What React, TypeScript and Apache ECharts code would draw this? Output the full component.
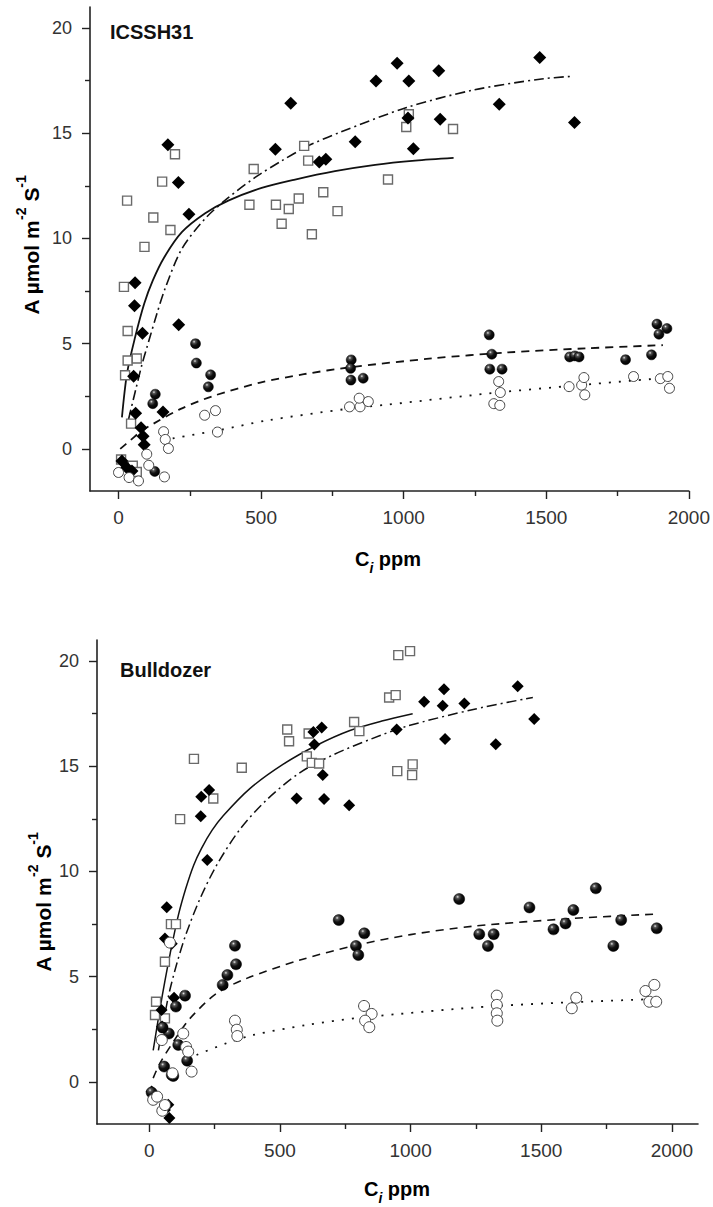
import React, { useEffect, useRef } from "react";
import * as echarts from "echarts";

// ---------- tick values ----------
const majorX = [0, 500, 1000, 1500, 2000];
const minorX = [250, 750, 1250, 1750];
const majorY = [0, 5, 10, 15, 20];
const minorY = [2.5, 7.5, 12.5, 17.5];

// ---------- ICSSH31 (top panel) ----------
const icsSquares = [
  [19, 7.7], [30, 11.8], [91, 9.6], [122, 11.0], [153, 12.7], [182, 10.4], [198, 14.0],
  [32, 5.6], [32, 4.2], [64, 4.3], [23, 3.5], [44, 1.2], [9, -0.5], [50, -0.8], [64, -1.1],
  [474, 13.3], [459, 11.6], [552, 11.6], [572, 10.7], [597, 11.4], [632, 11.9], [651, 14.4],
  [665, 13.7], [678, 10.2], [718, 12.2], [768, 11.3], [945, 12.8], [1009, 15.3], [1018, 15.9],
  [1173, 15.2],
];
const icsDiamonds = [
  [58, 7.9], [56, 6.8], [84, 5.5], [53, 3.45], [60, 1.7], [156, 1.75], [211, 5.9], [79, 1.0],
  [86, 0.6], [90, 0.2], [12, -0.57], [29, -0.9], [47, -1.05], [173, 14.45], [210, 12.66],
  [247, 11.15], [550, 14.24], [604, 16.43], [704, 13.64], [727, 13.77], [830, 14.6],
  [903, 17.48], [977, 18.33], [1015, 15.72], [1018, 17.48], [1034, 14.26], [1123, 17.97],
  [1128, 15.67], [1335, 16.38], [1477, 18.6], [1599, 15.51],
];
const icsClosed = [
  [120, 2.15], [129, 2.6], [127, -1.07], [270, 5.0], [273, 4.08], [323, 3.52], [315, 2.95],
  [816, 4.23], [814, 3.83], [815, 3.27], [858, 3.36], [1300, 5.42], [1309, 4.5], [1302, 3.79],
  [1345, 3.79], [1582, 4.37], [1600, 4.42], [1615, 4.37], [1778, 4.24], [1869, 4.47],
  [1888, 5.93], [1895, 5.45], [1923, 5.72],
];
const icsOpen = [
  [0, -1.12], [37, -1.36], [70, -1.52], [106, -0.78], [99, -0.25], [158, 0.82], [164, 0.45],
  [175, 0.02], [161, -1.33], [302, 1.6], [340, 1.82], [347, 0.8], [810, 2.0], [847, 2.0],
  [844, 2.41], [876, 2.25], [1333, 3.2], [1339, 2.68], [1316, 2.15], [1337, 2.07], [1580, 2.96],
  [1624, 3.03], [1632, 3.39], [1635, 2.57], [1806, 3.44], [1900, 3.34], [1926, 3.44], [1932, 2.88],
];
const icsFitSquares = [
  [12, 1.5], [30, 3.6], [58, 5.3], [90, 6.9], [120, 8.0], [160, 9.1], [222, 10.3], [304, 11.2],
  [385, 11.8], [502, 12.4], [619, 12.8], [759, 13.2], [900, 13.5], [1040, 13.7], [1175, 13.83],
];
const icsFitDiamonds = [
  [35, 1.4], [60, 2.8], [82, 4.0], [99, 4.8], [111, 5.35], [134, 6.4], [164, 7.65], [222, 9.5],
  [304, 10.95], [385, 11.94], [479, 12.9], [572, 13.69], [665, 14.4], [777, 15.05], [1010, 16.22],
  [1243, 17.05], [1477, 17.57], [1594, 17.71],
];
const icsFitClosed = [
  [6, 0.0], [41, 0.4], [80, 0.85], [123, 1.2], [216, 1.89], [333, 2.52], [497, 3.15], [650, 3.55],
  [812, 3.88], [1100, 4.3], [1360, 4.58], [1640, 4.78], [1909, 4.93],
];
const icsFitOpen = [
  [190, 0.5], [356, 0.9], [520, 1.35], [800, 1.9], [940, 2.1], [1360, 2.72], [1886, 3.34],
];

// ---------- Bulldozer (bottom panel) ----------
const bdzSquares = [
  [171, 15.35], [354, 14.93], [118, 12.49], [245, 13.47], [528, 16.75], [535, 16.19], [610, 16.56],
  [603, 15.47], [622, 15.16], [650, 15.13], [784, 17.1], [804, 16.67], [918, 18.27], [943, 18.38],
  [953, 20.28], [998, 20.47], [949, 14.77], [1008, 15.09], [1006, 14.58], [83, 7.5], [102, 7.5],
  [60, 5.71], [26, 3.81], [22, 3.18], [60, 3.02],
];
const bdzDiamonds = [
  [199, 13.55], [229, 13.87], [197, 12.63], [222, 10.54], [67, 8.3], [60, 6.82], [86, 6.57],
  [95, 4.0], [47, 3.42], [49, 2.63], [77, -1.72], [60, -1.33], [73, -1.09], [9, -0.46],
  [628, 16.63], [632, 16.04], [660, 16.84], [664, 14.58], [669, 13.45], [765, 13.15], [564, 13.47],
  [947, 16.75], [1052, 18.06], [1123, 17.87], [1128, 18.66], [1132, 16.29], [1206, 17.98],
  [1326, 16.05], [1410, 18.8], [1473, 17.24],
];
const bdzClosed = [
  [328, 6.47], [332, 5.59], [299, 5.08], [281, 4.61], [137, 4.1], [102, 3.58], [75, 2.3], [51, 2.58],
  [111, 1.76], [145, 1.01], [57, 0.73], [86, 0.33], [92, 0.28], [9, -0.5], [725, 7.69], [791, 6.46],
  [800, 6.03], [823, 7.06], [1186, 8.69], [1263, 7.02], [1318, 7.02], [1296, 6.46], [1455, 8.29],
  [1547, 7.25], [1593, 7.53], [1623, 8.17], [1709, 9.2], [1776, 6.46], [1806, 7.69], [1942, 7.3],
];
const bdzOpen = [
  [822, 3.61], [851, 3.23], [826, 2.91], [842, 2.6], [1330, 4.1], [1330, 3.66], [1330, 3.26],
  [1332, 2.91], [1634, 4.0], [1617, 3.5], [1899, 4.32], [1933, 4.61], [1914, 3.81], [1940, 3.81],
  [328, 2.91], [335, 2.48], [337, 2.18], [130, 2.3], [141, 1.66], [149, 1.44], [162, 0.49],
  [89, 0.41], [15, -0.85], [50, -1.37], [48, 1.99], [79, 6.62], [30, -0.7], [60, -1.1],
];
const bdzFitSquares = [
  [15, 1.5], [40, 3.4], [60, 4.8], [80, 6.1], [111, 7.9], [140, 9.2], [170, 10.3], [200, 11.1],
  [240, 11.95], [283, 12.65], [386, 13.95], [513, 15.1], [641, 16.0], [768, 16.7], [890, 17.15],
  [1008, 17.5],
];
const bdzFitDiamonds = [
  [35, 1.5], [73, 4.05], [105, 5.6], [140, 7.0], [194, 8.7], [258, 10.3], [347, 12.0],
  [449, 13.4], [577, 14.7], [705, 15.55], [850, 16.3], [985, 16.9], [1240, 17.7], [1468, 18.27],
];
const bdzFitClosed = [
  [15, 0.18], [41, 0.89], [105, 2.15], [156, 3.02], [258, 4.21], [373, 4.92], [577, 5.79],
  [794, 6.5], [1000, 7.0], [1240, 7.4], [1623, 7.77], [1949, 7.98],
];
const bdzFitOpen = [
  [181, 1.28], [296, 1.84], [398, 2.23], [600, 2.7], [807, 3.05], [1330, 3.61], [1917, 3.93],
];

const FONT = "'Liberation Sans', Arial, Helvetica, sans-serif";

const closedFill = {
  type: "radial",
  x: 0.36,
  y: 0.3,
  r: 0.7,
  colorStops: [
    { offset: 0, color: "#e8e8e8" },
    { offset: 0.2, color: "#555" },
    { offset: 0.55, color: "#111" },
    { offset: 1, color: "#000" },
  ],
};

function scatter(data: number[][], idx: number, kind: string, size: number) {
  const base: any = {
    type: "scatter",
    xAxisIndex: idx * 2,
    yAxisIndex: idx * 2,
    data,
    symbolSize: size,
    z: 3,
    silent: true,
  };
  if (kind === "square") {
    base.symbol = "rect";
    base.itemStyle = { color: "#fff", borderColor: "#6a6a6a", borderWidth: 1.4, opacity: 1 };
  } else if (kind === "diamond") {
    base.symbol = "diamond";
    base.itemStyle = { color: "#000", opacity: 1 };
  } else if (kind === "closed") {
    base.symbol = "circle";
    base.itemStyle = { color: closedFill, borderColor: "#000", borderWidth: 0.5, opacity: 1 };
  } else {
    base.symbol = "circle";
    base.itemStyle = { color: "#fff", borderColor: "#444", borderWidth: 1, opacity: 1 };
  }
  return base;
}

function fit(data: number[][], idx: number, dash: any, width = 1.5) {
  return {
    type: "line",
    xAxisIndex: idx * 2,
    yAxisIndex: idx * 2,
    data,
    smooth: 0.3,
    showSymbol: false,
    symbol: "none",
    silent: true,
    z: 2,
    lineStyle: { color: "#111", width, type: dash },
  };
}

const plainNum = (v: number) => String(v);

function axesFor(gridIndex: number, xmin: number, xmax: number) {
  const labelStyle = { fontFamily: FONT, color: "#333", formatter: plainNum };
  const xMain = {
    type: "value",
    gridIndex,
    position: "bottom",
    min: xmin,
    max: xmax,
    splitLine: { show: false },
    axisLine: { show: true, onZero: false, lineStyle: { color: "#222", width: 1.6 } },
    axisTick: { show: true, customValues: majorX, length: 8, lineStyle: { color: "#222", width: 1.4 } },
    axisLabel: { show: true, customValues: majorX, margin: 17, fontSize: 19, ...labelStyle },
  };
  const xMinor = {
    type: "value",
    gridIndex,
    position: "bottom",
    min: xmin,
    max: xmax,
    splitLine: { show: false },
    axisLine: { show: false, onZero: false },
    axisTick: { show: true, customValues: minorX, length: 5, lineStyle: { color: "#222", width: 1.4 } },
    axisLabel: { show: false },
  };
  const yMain = {
    type: "value",
    gridIndex,
    position: "left",
    min: -2,
    max: 21,
    splitLine: { show: false },
    axisLine: { show: true, onZero: false, lineStyle: { color: "#222", width: 1.6 } },
    axisTick: { show: true, customValues: majorY, length: 8, lineStyle: { color: "#222", width: 1.4 } },
    axisLabel: { show: true, customValues: majorY, margin: 18, fontSize: 18, ...labelStyle },
  };
  const yMinor = {
    type: "value",
    gridIndex,
    position: "left",
    min: -2,
    max: 21,
    splitLine: { show: false },
    axisLine: { show: false, onZero: false },
    axisTick: { show: true, customValues: minorY, length: 5, lineStyle: { color: "#222", width: 1.4 } },
    axisLabel: { show: false },
  };
  return { x: [xMain, xMinor], y: [yMain, yMinor] };
}

const yTitleRich = {
  b: { fontFamily: FONT, fontWeight: "bold", fontSize: 21, lineHeight: 34, color: "#111" },
  s: { fontFamily: FONT, fontWeight: "bold", fontSize: 14, lineHeight: 14, verticalAlign: "top", color: "#111" },
};
const xTitleRich = {
  b: { fontFamily: FONT, fontWeight: "bold", fontSize: 20, lineHeight: 32, color: "#111" },
  i: { fontFamily: FONT, fontWeight: "bold", fontStyle: "italic", fontSize: 14, lineHeight: 14, verticalAlign: "bottom", color: "#111" },
};

export default function App() {
  const ref = useRef<HTMLDivElement>(null);
  useEffect(() => {
    if (!ref.current) return;
    const chart = echarts.init(ref.current, undefined, { renderer: "svg" });
    const a0 = axesFor(0, -100, 2000);
    const a1 = axesFor(1, -200, 2100);
    chart.setOption({
      animation: false,
      backgroundColor: "#fff",
      grid: [
        { left: 90, top: 7, width: 599, height: 484 },
        { left: 97, top: 640, width: 601, height: 484 },
      ],
      xAxis: [...a0.x, ...a1.x],
      yAxis: [...a0.y, ...a1.y],
      series: [
        scatter(icsSquares, 0, "square", 9),
        scatter(icsDiamonds, 0, "diamond", 13),
        scatter(icsClosed, 0, "closed", 10),
        scatter(icsOpen, 0, "open", 10),
        fit(icsFitSquares, 0, "solid", 1.8),
        fit(icsFitDiamonds, 0, [10, 4, 2, 4], 1.6),
        fit(icsFitClosed, 0, [8, 6], 1.8),
        fit(icsFitOpen, 0, [2, 8], 1.8),
        scatter(bdzSquares, 1, "square", 9),
        scatter(bdzDiamonds, 1, "diamond", 12),
        scatter(bdzClosed, 1, "closed", 11),
        scatter(bdzOpen, 1, "open", 11),
        fit(bdzFitSquares, 1, "solid", 1.5),
        fit(bdzFitDiamonds, 1, [10, 4, 2, 4], 1.5),
        fit(bdzFitClosed, 1, [8, 6], 1.6),
        fit(bdzFitOpen, 1, [2, 8], 1.8),
      ],
      graphic: [
        {
          type: "text",
          left: 110,
          top: 22,
          style: { text: "ICSSH31", fontFamily: FONT, fontWeight: "bold", fontSize: 20, fill: "#111" },
        },
        {
          type: "text",
          left: 120,
          top: 660,
          style: { text: "Bulldozer", fontFamily: FONT, fontWeight: "bold", fontSize: 20, fill: "#111" },
        },
        {
          type: "text",
          x: 31,
          y: 245,
          rotation: Math.PI / 2,
          style: {
            text: "{b|A µmol m}{s|-2}{b| S}{s|-1}",
            rich: yTitleRich,
            align: "center",
            verticalAlign: "middle",
          },
        },
        {
          type: "text",
          x: 43,
          y: 902,
          rotation: Math.PI / 2,
          style: {
            text: "{b|A µmol m}{s|-2}{b| S}{s|-1}",
            rich: yTitleRich,
            align: "center",
            verticalAlign: "middle",
          },
        },
        {
          type: "text",
          x: 388,
          y: 559,
          style: {
            text: "{b|C}{i|i}{b| ppm}",
            rich: xTitleRich,
            align: "center",
            verticalAlign: "middle",
          },
        },
        {
          type: "text",
          x: 397,
          y: 1189,
          style: {
            text: "{b|C}{i|i}{b| ppm}",
            rich: xTitleRich,
            align: "center",
            verticalAlign: "middle",
          },
        },
      ],
    });
    return () => chart.dispose();
  }, []);
  return (
    <div
      ref={ref}
      style={{ position: "absolute", left: 0, top: 0, width: 713, height: 1207, background: "#fff" }}
    />
  );
}
